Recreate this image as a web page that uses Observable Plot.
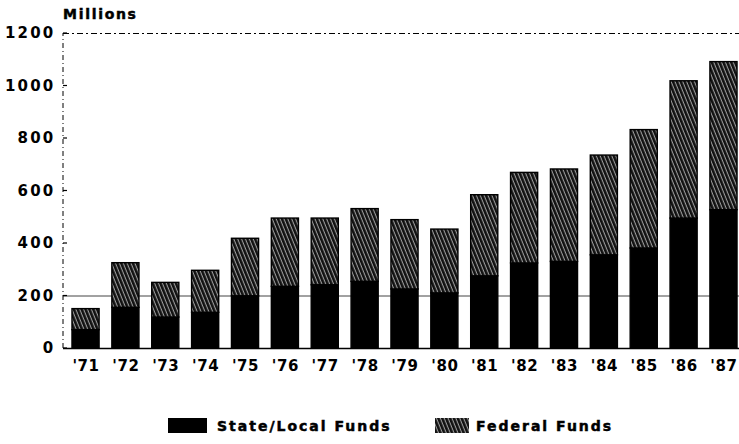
<!DOCTYPE html>
<html>
<head>
<meta charset="utf-8">
<script src="https://cdn.jsdelivr.net/npm/d3@7"></script>
<script src="https://cdn.jsdelivr.net/npm/@observablehq/plot@0.6"></script>
<style>
  html, body { margin: 0; padding: 0; background: #fff; }
  #wrap { width: 739px; height: 444px; position: relative; font-family: "DejaVu Sans", sans-serif; }
  #legend { position: absolute; left: 0; top: 418px; width: 739px; height: 20px; }
  .lg { position: absolute; top: 0px; font-weight: bold; font-size: 14px; letter-spacing: 2px; color: #000; line-height: 16px; white-space: nowrap; -webkit-text-stroke: 0.5px #000; }
  .sw { position: absolute; top: 0px; }
</style>
</head>
<body>
<div id="wrap">
  <div id="chart"></div>
  <div id="legend"></div>
</div>
<script>
const years = ["'71","'72","'73","'74","'75","'76","'77","'78","'79","'80","'81","'82","'83","'84","'85","'86","'87"];
const stateLocal = [70,155,118,136,199,235,241,254,225,210,275,324,330,355,381,495,527];
const federal = [80,170,132,160,219,260,254,277,264,243,309,345,352,380,451,523,564];
const seriesNames = ["State/Local Funds", "Federal Funds"];
const yTicks = [0,200,400,600,800,1000,1200];

const rows = [];
years.forEach((yr, i) => {
  rows.push({year: yr, type: seriesNames[0], value: stateLocal[i]});
  rows.push({year: yr, type: seriesNames[1], value: federal[i]});
});

const W = 739, H = 412;
const chart = Plot.plot({
  width: W,
  height: H,
  marginLeft: 63,
  marginRight: 0,
  marginTop: 33,
  marginBottom: 64,
  style: {fontFamily: "DejaVu Sans, sans-serif", background: "#fff"},
  x: {domain: years, range: [65.6, 743.4], paddingInner: 0.32, paddingOuter: 0.16, round: false, label: null},
  y: {domain: [0, 1200], label: null},
  color: {domain: seriesNames, range: ["#000", "url(#hatch)"]},
  marks: [
    Plot.ruleY([200], {stroke: "#444", strokeWidth: 1}),
    Plot.ruleY([1200], {stroke: "#000", strokeWidth: 1, strokeDasharray: "6,3,2,3"}),
    Plot.barY(rows, {x: "year", y: "value", fill: "type", stroke: "#000", strokeWidth: 1.4}),
    Plot.ruleY([0], {stroke: "#000", strokeWidth: 1.5}),
    Plot.axisY(yTicks, {tickSize: 0, tickPadding: 8, fontSize: 15, fontWeight: "bold", fill: "#000", stroke: "#000", strokeWidth: 0.5, tickFormat: d => String(d), label: null}),
    Plot.axisX({tickSize: 0, tickPadding: 12, fontSize: 15, fontWeight: "bold", fill: "#000", stroke: "#000", strokeWidth: 0.5, label: null})
  ]
});

const svg = d3.select(chart);
svg.selectAll('[aria-label="y-axis tick label"] text').style("letter-spacing", "2.2px");
svg.selectAll('[aria-label="x-axis tick label"] text').style("letter-spacing", "0.6px");

// hatch pattern for federal funds
function addHatch(defsSel, id) {
  const pat = defsSel.append("pattern").attr("id", id).attr("patternUnits", "userSpaceOnUse")
    .attr("width", 3.6).attr("height", 3.6).attr("patternTransform", "rotate(-22)");
  pat.append("rect").attr("width", 3.6).attr("height", 3.6).attr("fill", "#111");
  pat.append("line").attr("x1", 1.2).attr("y1", 0).attr("x2", 1.2).attr("y2", 3.6)
    .attr("stroke", "#fff").attr("stroke-width", 0.9).attr("stroke-opacity", 0.7);
}
addHatch(svg.insert("defs", ":first-child"), "hatch");

// left dashed axis line and small inward ticks, placed with the plot's y scale
const ys = chart.scale("y");
const xLeft = 63;
svg.append("line").attr("x1", xLeft).attr("x2", xLeft)
  .attr("y1", ys.apply(0)).attr("y2", ys.apply(1200))
  .attr("stroke", "#000").attr("stroke-width", 1).attr("stroke-dasharray", "5,3,1,3");
yTicks.forEach(t => {
  svg.append("line").attr("x1", xLeft).attr("x2", xLeft + 4)
    .attr("y1", ys.apply(t)).attr("y2", ys.apply(t)).attr("stroke", "#000").attr("stroke-width", 1.2);
});

// "Millions" label
svg.append("text").attr("x", 63).attr("y", 19).attr("text-anchor", "start")
  .attr("font-family", "DejaVu Sans, sans-serif")
  .attr("font-weight", "bold").attr("font-size", 14).style("letter-spacing", "1.7px")
  .attr("fill", "#000").attr("stroke", "#000").attr("stroke-width", 0.5).text("Millions");

document.getElementById("chart").appendChild(chart);

// legend
const legend = document.getElementById("legend");
const items = [
  {name: seriesNames[0], sx: 168, sw: 39, tx: 217},
  {name: seriesNames[1], sx: 435, sw: 34, tx: 476}
];
items.forEach((it, i) => {
  const sw = d3.create("svg").attr("class", "sw").attr("width", it.sw).attr("height", 15)
    .style("left", it.sx + "px");
  if (i === 1) addHatch(sw.append("defs"), "hatchL");
  sw.append("rect").attr("width", it.sw).attr("height", 15)
    .attr("fill", i === 0 ? "#000" : "url(#hatchL)");
  legend.appendChild(sw.node());
  const t = document.createElement("div");
  t.className = "lg";
  t.style.left = it.tx + "px";
  t.textContent = it.name;
  legend.appendChild(t);
});
</script>
</body>
</html>
